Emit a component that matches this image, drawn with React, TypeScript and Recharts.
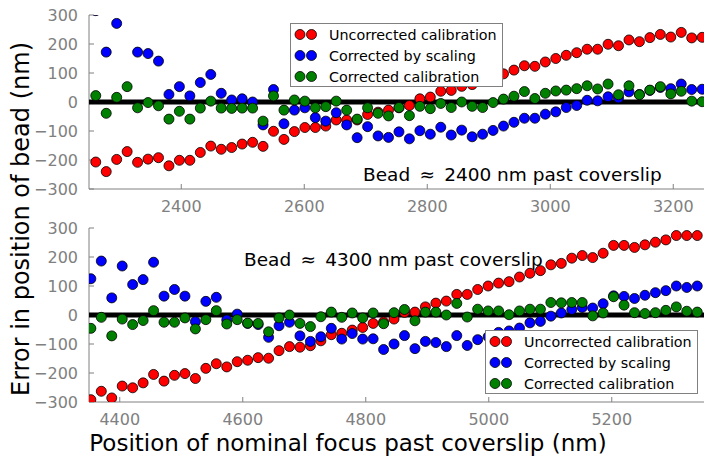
import React from 'react';
import { ScatterChart, Scatter, XAxis, YAxis } from 'recharts';

// nominal focus positions (nm)
const topX = [2261, 2278, 2295, 2312, 2329, 2346, 2363, 2380, 2397, 2414, 2431, 2448, 2465, 2482, 2499, 2516, 2533, 2550, 2567, 2584, 2601, 2618, 2635, 2652, 2669, 2686, 2703, 2720, 2737, 2754, 2771, 2788, 2805, 2822, 2839, 2856, 2873, 2890, 2907, 2924, 2941, 2958, 2975, 2992, 3009, 3026, 3043, 3060, 3077, 3094, 3111, 3128, 3145, 3162, 3179, 3196, 3213, 3230, 3247];
const topUncorrected = [-207, -240, -198, -171, -208, -197, -192, -220, -201, -201, -174, -152, -163, -157, -145, -139, -153, -101, -129, -102, -88, -88, -83, -62, -62, -62, -43, -35, -28, -20, -12, 11, 17, 37, 40, 54, 60, 72, 85, 97, 110, 125, 123, 138, 150, 161, 170, 182, 182, 199, 194, 214, 208, 222, 233, 224, 240, 221, 223];
const topScaled = [315, 172, 271, null, 172, 167, 141, 26, 53, 21, 67, 95, 30, 7, 11, 0, -79, 43, -75, -28, -20, -54, -66, -37, -79, -123, -85, -117, -122, -103, -127, -99, -111, -87, -114, -97, -120, -111, -98, -83, -70, -56, -56, -42, -34, -19, -12, 6, 4, 18, 14, 35, 26, 40, 50, 46, 62, 43, 44];
const topCorrected = [22, -39, 16, 53, -20, -2, -13, -59, -32, -59, -21, 3, -21, -22, -21, -21, -66, 21, -28, 7, 3, -20, -16, 3, -28, -59, -20, -39, -48, -19, -47, -15, -23, -5, -19, 0, -15, -19, -2, 10, 20, 36, 12, 30, 38, 41, 46, 56, 45, 62, 25, 56, 25, 41, 53, 28, 37, 3, 1];

const bottomX = [4353, 4370, 4387, 4404, 4421, 4438, 4455, 4472, 4489, 4506, 4523, 4540, 4557, 4574, 4591, 4608, 4625, 4642, 4659, 4676, 4693, 4710, 4727, 4744, 4761, 4778, 4795, 4812, 4829, 4846, 4863, 4880, 4897, 4914, 4931, 4948, 4965, 4982, 4999, 5016, 5033, 5050, 5067, 5084, 5101, 5118, 5135, 5152, 5169, 5186, 5203, 5220, 5237, 5254, 5271, 5288, 5305, 5322, 5339];
const bottomUncorrected = [-292, -263, -286, -245, -251, -234, -205, -228, -208, -202, -219, -184, -168, -179, -161, -156, -147, -149, -123, -109, -111, -106, -89, -68, -63, -52, -43, -29, -24, -14, 9, 10, 28, 41, 48, 71, 71, 88, 100, 110, 115, 131, 144, 153, 173, 178, 196, 205, 198, 213, 240, 240, 233, 242, 251, 259, 274, 274, 274];
const bottomScaled = [125, 186, 59, 169, 105, 122, 182, 65, 88, 65, -23, 47, 61, -17, 3, -29, -33, -77, -37, -25, -72, -91, -75, -46, -83, -64, -83, -82, -119, -100, -71, -116, -91, -95, -109, -71, -105, -85, -75, -60, -55, -45, -27, -22, -4, 7, 19, 26, 24, 39, 66, 64, 57, 68, 77, 84, 100, 95, 100];
const bottomCorrected = [-46, -8, -72, -14, -33, -19, 15, -25, -25, -10, -48, -16, 15, -31, -16, -28, -29, -58, -10, 0, -29, -40, -6, 10, -8, 7, -10, 7, -30, 8, 19, -20, 10, 10, 0, 40, -7, 20, 14, 14, 1, 14, 20, 20, 43, 42, 43, 43, -3, 7, 63, 34, 8, 5, 8, 16, 28, 13, 10];

const yTicks = [-300, -200, -100, 0, 100, 200, 300];
const topXTicks = [2400, 2600, 2800, 3000, 3200];
const bottomXTicks = [4400, 4600, 4800, 5000, 5200];

const seriesNames = ['Uncorrected calibration', 'Corrected by scaling', 'Corrected calibration'];
const seriesColors = ['#ff0000', '#0000ff', '#008000'];

const FONT = 'DejaVu Sans, sans-serif';
const AXIS_GREY = '#808080';

const toPoints = (xs: number[], ys: (number | null)[]) =>
  xs.map((x, i) => ({ x, y: ys[i] })).filter((p) => p.y !== null);

const makeDot = (color: string) => (props: any) => (
  <circle cx={props.cx} cy={props.cy} r={5} fill={color} stroke="#000" strokeWidth={0.8} />
);

const fmtY = (v: number) => (v < 0 ? `\u2212${-v}` : `${v}`);

interface PanelProps {
  xs: number[];
  series: (number | null)[][];
  domain: [number, number];
  xTicks: number[];
}

const Panel: React.FC<PanelProps> = ({ xs, series, domain, xTicks }) => (
  <ScatterChart width={714} height={222} margin={{ top: 15, right: 10, bottom: 0, left: 0 }}>
    <XAxis
      xAxisId="b"
      dataKey="x"
      type="number"
      domain={domain}
      ticks={xTicks}
      allowDataOverflow
      height={33}
      tickSize={-5}
      tickMargin={17}
      stroke={AXIS_GREY}
      tick={{ fill: AXIS_GREY, fontSize: 16, fontFamily: FONT }}
    />
    <XAxis
      xAxisId="t"
      orientation="top"
      dataKey="x"
      type="number"
      domain={domain}
      ticks={xTicks}
      height={0}
      tickSize={-5}
      tick={false}
      stroke={AXIS_GREY}
    />
    <YAxis
      yAxisId="l"
      dataKey="y"
      type="number"
      domain={[-300, 300]}
      ticks={yTicks}
      allowDataOverflow
      width={89}
      tickSize={-5}
      tickMargin={16}
      tickFormatter={fmtY}
      stroke={AXIS_GREY}
      tick={{ fill: AXIS_GREY, fontSize: 16, fontFamily: FONT }}
    />
    <YAxis
      yAxisId="r"
      orientation="right"
      dataKey="y"
      type="number"
      domain={[-300, 300]}
      ticks={yTicks}
      width={0}
      tickSize={-5}
      tick={false}
      stroke={AXIS_GREY}
    />
    {/* thick zero line, drawn first so the markers sit on top of it */}
    <Scatter
      xAxisId="b"
      yAxisId="l"
      data={[{ x: domain[0], y: 0 }, { x: domain[1], y: 0 }]}
      line={{ stroke: '#000', strokeWidth: 5 }}
      shape={() => <g />}
      legendType="none"
      isAnimationActive={false}
    />
    {series.map((ys, i) => (
      <Scatter
        key={seriesNames[i]}
        name={seriesNames[i]}
        xAxisId="b"
        yAxisId="l"
        data={toPoints(xs, ys)}
        fill={seriesColors[i]}
        shape={makeDot(seriesColors[i])}
        isAnimationActive={false}
      />
    ))}
  </ScatterChart>
);

const LegendBox: React.FC<{ left: number; top: number }> = ({ left, top }) => (
  <div
    style={{
      position: 'absolute',
      left,
      top,
      width: 213,
      height: 64,
      boxSizing: 'border-box',
      border: `1px solid ${AXIS_GREY}`,
      background: '#fff',
      fontFamily: FONT,
      fontSize: 14.3,
      color: '#000',
    }}
  >
    {seriesNames.map((name, i) => (
      <div
        key={name}
        style={{ position: 'absolute', left: 0, top: i * 21, height: 21, display: 'flex', alignItems: 'center', whiteSpace: 'nowrap' }}
      >
        <svg width={38} height={21} style={{ display: 'block' }}>
          <circle cx={9} cy={10.5} r={5} fill={seriesColors[i]} stroke="#000" strokeWidth={0.8} />
          <circle cx={20.5} cy={10.5} r={5} fill={seriesColors[i]} stroke="#000" strokeWidth={0.8} />
        </svg>
        <span>{name}</span>
      </div>
    ))}
  </div>
);

export default function App() {
  return (
    <div style={{ position: 'absolute', left: 0, top: 0, width: 714, height: 462, background: '#fff', overflow: 'hidden' }}>
      <svg width={714} height={462} style={{ position: 'absolute', left: 0, top: 0 }}>
        <text x={363} y={181} fontFamily={FONT} fontSize={18.5} fill="#000">
          {'Bead\u2002\u2248\u20022400 nm past coverslip'}
        </text>
        <text x={244} y={266} fontFamily={FONT} fontSize={18.5} fill="#000">
          {'Bead\u2002\u2248\u20024300 nm past coverslip'}
        </text>
        <text x={348} y={451} textAnchor="middle" fontFamily={FONT} fontSize={23} fill="#000">
          Position of nominal focus past coverslip (nm)
        </text>
        <text
          x={0}
          y={0}
          transform="translate(29 219) rotate(-90)"
          textAnchor="middle"
          fontFamily={FONT}
          fontSize={24}
          fill="#000"
        >
          Error in position of bead (nm)
        </text>
      </svg>
      <div style={{ position: 'absolute', left: 0, top: 0 }}>
        <Panel xs={topX} series={[topUncorrected, topScaled, topCorrected]} domain={[2250, 3250]} xTicks={topXTicks} />
      </div>
      <div style={{ position: 'absolute', left: 0, top: 213 }}>
        <Panel xs={bottomX} series={[bottomUncorrected, bottomScaled, bottomCorrected]} domain={[4350, 5350]} xTicks={bottomXTicks} />
      </div>
      <LegendBox left={290} top={23} />
      <LegendBox left={485} top={330} />
    </div>
  );
}
